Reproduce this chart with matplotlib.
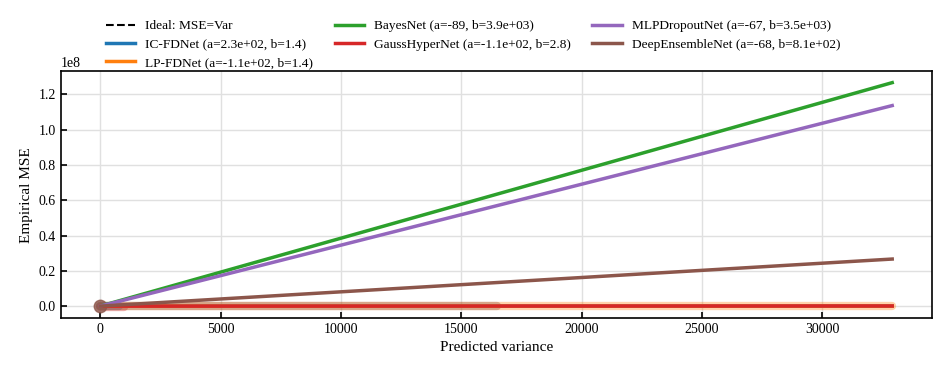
import numpy as np
import matplotlib
matplotlib.use("Agg")
import matplotlib.pyplot as plt

plt.rcParams["font.family"] = ["Liberation Serif", "DejaVu Serif"]
plt.rcParams["mathtext.fontset"] = "stix"

# fitted lines  MSE = a + b * var, drawn over the predicted-variance range
fit_x = [0, 32900]
models = ["IC-FDNet", "LP-FDNet", "BayesNet", "GaussHyperNet", "MLPDropoutNet", "DeepEnsembleNet"]
fit_labels = [
    "IC-FDNet (a=2.3e+02, b=1.4)",
    "LP-FDNet (a=-1.1e+02, b=1.4)",
    "BayesNet (a=-89, b=3.9e+03)",
    "GaussHyperNet (a=-1.1e+02, b=2.8)",
    "MLPDropoutNet (a=-67, b=3.5e+03)",
    "DeepEnsembleNet (a=-68, b=8.1e+02)",
]
fit_y = {
    "IC-FDNet": [230, 46300],
    "LP-FDNet": [-110, 45900],
    "BayesNet": [-89, 1.267e8],
    "GaussHyperNet": [-110, 92000],
    "MLPDropoutNet": [-67, 1.137e8],
    "DeepEnsembleNet": [-68, 2.67e7],
}
colors = {
    "IC-FDNet": "tab:blue",
    "LP-FDNet": "tab:orange",
    "BayesNet": "tab:green",
    "GaussHyperNet": "tab:red",
    "MLPDropoutNet": "tab:purple",
    "DeepEnsembleNet": "tab:brown",
}

# binned (predicted variance, empirical MSE) points per model
bin_x = {
    "LP-FDNet": [0, 4000, 8000, 12000, 16000, 20000, 24000, 28000, 32900],
    "GaussHyperNet": [0, 250, 500, 750, 1000],
    "DeepEnsembleNet": [0, 2000, 4000, 6000, 8000, 10000, 12000, 14000, 16500],
    "IC-FDNet": [0, 400, 800],
}
bin_y = {
    "LP-FDNet": [0, 0, 0, 0, 0, 0, 0, 0, 0],
    "GaussHyperNet": [-4.0e5, -4.0e5, -4.0e5, -4.0e5, -4.0e5],
    "DeepEnsembleNet": [0, 0, 0, 0, 0, 0, 0, 0, 0],
    "IC-FDNet": [0, 0, 0],
}

fig, ax = plt.subplots(figsize=(9.46, 3.72), dpi=100)

for m in ["LP-FDNet", "IC-FDNet", "GaussHyperNet", "DeepEnsembleNet"]:
    ax.plot(bin_x[m], bin_y[m], color=colors[m], lw=6, alpha=0.35,
            solid_capstyle="round", zorder=2)
ax.plot([0], [0], "o", color="tab:brown", ms=9, alpha=0.8, zorder=3)

handles = []
h, = ax.plot(fit_x, fit_x, "k--", lw=1.5, label="Ideal: MSE=Var", zorder=4)
handles.append(h)
for m, lab in zip(models, fit_labels):
    h, = ax.plot(fit_x, fit_y[m], color=colors[m], lw=2.5, label=lab, zorder=4)
    handles.append(h)

ax.set_xlabel("Predicted variance", fontsize=11)
ax.set_ylabel("Empirical MSE", fontsize=11)
ax.grid(True, color="#e0e0e0", lw=1)
ax.set_axisbelow(True)
ax.tick_params(direction="in", labelsize=10, length=4, width=1.2)
for s in ax.spines.values():
    s.set_linewidth(1.2)

fig.legend(handles=handles, loc="upper left", bbox_to_anchor=(106 / 946, 1 - 20 / 372),
           ncol=3, frameon=False, fontsize=9.6, columnspacing=1.6,
           handlelength=2.2, handletextpad=0.75, labelspacing=0.45,
           borderpad=0, borderaxespad=0)

fig.subplots_adjust(left=0.064, right=0.985, top=0.808, bottom=0.145)
fig.savefig("out.png", dpi=100)
